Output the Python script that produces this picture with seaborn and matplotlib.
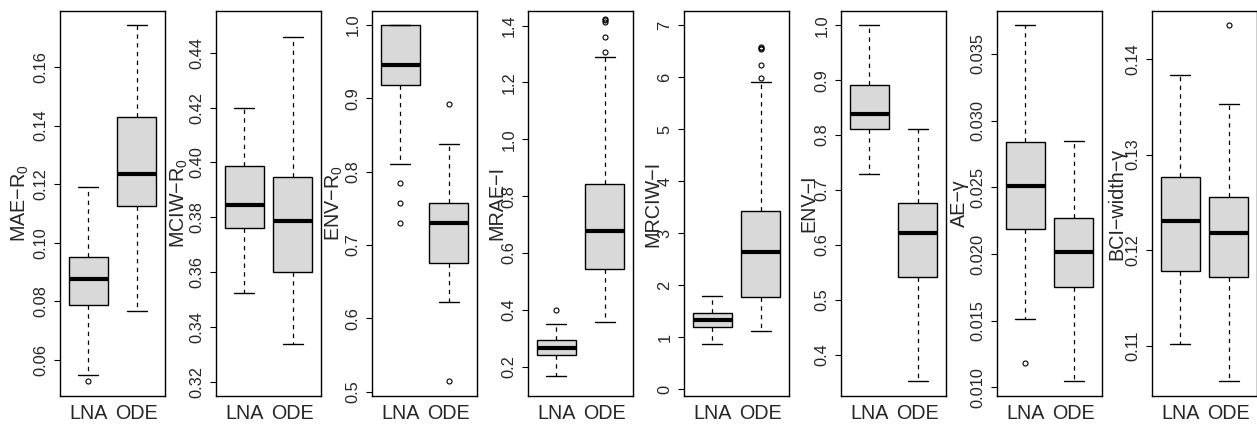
import numpy as np
import pandas as pd
import matplotlib
matplotlib.use("Agg")
import matplotlib.pyplot as plt
import seaborn as sns
from matplotlib.ticker import FixedLocator, FormatStrFormatter

sns.set_style("ticks")
plt.rcParams['font.family'] = ['Liberation Sans', 'DejaVu Sans']
plt.rcParams['mathtext.default'] = 'regular'
plt.rcParams['mathtext.fontset'] = 'custom'
plt.rcParams['mathtext.rm'] = 'Liberation Sans'

# ---------------- data ----------------
groups = ["LNA", "ODE"]
metric_labels = ["MAE\u2212R$_0$", "MCIW\u2212R$_0$", "ENV\u2212R$_0$", "MRAE\u2212I",
                 "MRCIW\u2212I", "ENV\u2212I", "AE\u2212\u03b3", "BCI\u2212width\u2212\u03b3"]

lna_wlo = [0.0549, 0.3523, 0.8105, 0.1683, 0.866, 0.7297, 0.015125, 0.11017]
lna_q1  = [0.0789, 0.3762, 0.9182, 0.2399, 1.1995, 0.8117, 0.02185, 0.11781]
lna_med = [0.0878, 0.3843, 0.9455, 0.2669, 1.321, 0.8378, 0.0251, 0.12304]
lna_q3  = [0.0950, 0.3988, 1.0, 0.2938, 1.4625, 0.8912, 0.0284, 0.12761]
lna_whi = [0.1190, 0.4200, 1.0, 0.3501, 1.783, 1.0, 0.037175, 0.13829]
lna_out = [[0.0527], [], [0.7841, 0.7573, 0.73], [0.3994], [], [], [0.01185], []]

ode_wlo = [0.0766, 0.3337, 0.6223, 0.3572, 1.1225, 0.3526, 0.0105, 0.10634]
ode_q1  = [0.1124, 0.3599, 0.6759, 0.5425, 1.777, 0.5415, 0.0175, 0.11722]
ode_med = [0.1234, 0.3786, 0.7300, 0.6786, 2.636, 0.6222, 0.020125, 0.12175]
ode_q3  = [0.1428, 0.3948, 0.7573, 0.8440, 3.432, 0.6763, 0.022725, 0.12552]
ode_whi = [0.1743, 0.4458, 0.8377, 1.2897, 5.908, 0.8117, 0.0285, 0.13525]
ode_out = [[], [], [0.8918, 0.5145], [1.3085, 1.359, 1.414, 1.419, 1.424],
           [5.991, 6.228, 6.54, 6.57, 6.59], [], [], [0.14355]]

y_limits = [(0.0477, 0.1791), (0.3148, 0.4552), (0.4941, 1.0191), (0.0968, 1.4516),
            (-0.135, 7.274), (0.3247, 1.026), (0.00935, 0.038225), (0.10473, 0.14502)]
y_ticks = [[0.06, 0.08, 0.10, 0.12, 0.14, 0.16],
           [0.32, 0.34, 0.36, 0.38, 0.40, 0.42, 0.44],
           [0.5, 0.6, 0.7, 0.8, 0.9, 1.0],
           [0.2, 0.4, 0.6, 0.8, 1.0, 1.2, 1.4],
           [0, 1, 2, 3, 4, 5, 6, 7],
           [0.4, 0.5, 0.6, 0.7, 0.8, 0.9, 1.0],
           [0.010, 0.015, 0.020, 0.025, 0.030, 0.035],
           [0.11, 0.12, 0.13, 0.14]]
y_fmt = ["%.2f", "%.2f", "%.1f", "%.1f", "%d", "%.1f", "%.3f", "%.2f"]


def sample(wlo, q1, med, q3, whi, outs, m=20):
    # five-number summary, with the box values weighted
    return list(outs) + [wlo] + [q1] * m + [med] * m + [q3] * m + [whi]


rows = []
for i in range(len(metric_labels)):
    for g, (wl, a, b, c, wh, o) in zip(groups, [
            (lna_wlo[i], lna_q1[i], lna_med[i], lna_q3[i], lna_whi[i], lna_out[i]),
            (ode_wlo[i], ode_q1[i], ode_med[i], ode_q3[i], ode_whi[i], ode_out[i])]):
        for v in sample(wl, a, b, c, wh, o):
            rows.append((i, g, v))
df = pd.DataFrame(rows, columns=["metric", "method", "value"])

# ---------------- layout ----------------
W, H = 1257, 424
fig = plt.figure(figsize=(W / 100, H / 100), dpi=100)
lefts = [60, 216, 372, 528, 684, 841, 997, 1152]
ax_w, top, bot = 105, 11, 396
label_off = [34, 31, 32, 26, 26, 27, 32, 30]

for i in range(len(metric_labels)):
    ax = fig.add_axes([lefts[i] / W, (H - bot) / H, ax_w / W, (bot - top) / H])
    sns.boxplot(data=df[df.metric == i], x="method", y="value", order=groups, ax=ax,
                color="#D9D9D9", saturation=1, width=0.8, whis=1.5,
                linecolor="black", linewidth=1.0,
                boxprops=dict(edgecolor="black", linewidth=1.0),
                medianprops=dict(color="black", linewidth=3.0),
                whiskerprops=dict(color="black", linewidth=0.9, linestyle=(0, (3.5, 3.5))),
                capprops=dict(color="black", linewidth=1.0),
                flierprops=dict(marker="o", markersize=3.6, markerfacecolor="none",
                                markeredgecolor="black", markeredgewidth=0.8))
    ax.set_xlim(-0.58, 1.58)
    ax.set_ylim(*y_limits[i])
    ax.yaxis.set_major_locator(FixedLocator(y_ticks[i]))
    ax.yaxis.set_major_formatter(FormatStrFormatter(y_fmt[i]))
    ax.set_xlabel("")
    ax.set_ylabel(metric_labels[i], fontsize=14.2, va="baseline", ha="center")
    ax.yaxis.set_label_coords(-label_off[i] / ax_w, 0.5)
    ax.tick_params(axis="y", length=4.3, width=0.8, pad=4.0, labelsize=11.8,
                   labelrotation=90, direction="out", color="black")
    for t in ax.get_yticklabels():
        t.set_va("center")
    ax.tick_params(axis="x", length=0, pad=5.8, labelsize=14.2)
    for s in ax.spines.values():
        s.set_visible(True)
        s.set_color("black")
        s.set_linewidth(1.0)
    ax.set_facecolor("white")

fig.savefig("out.png", dpi=100, facecolor="white")
